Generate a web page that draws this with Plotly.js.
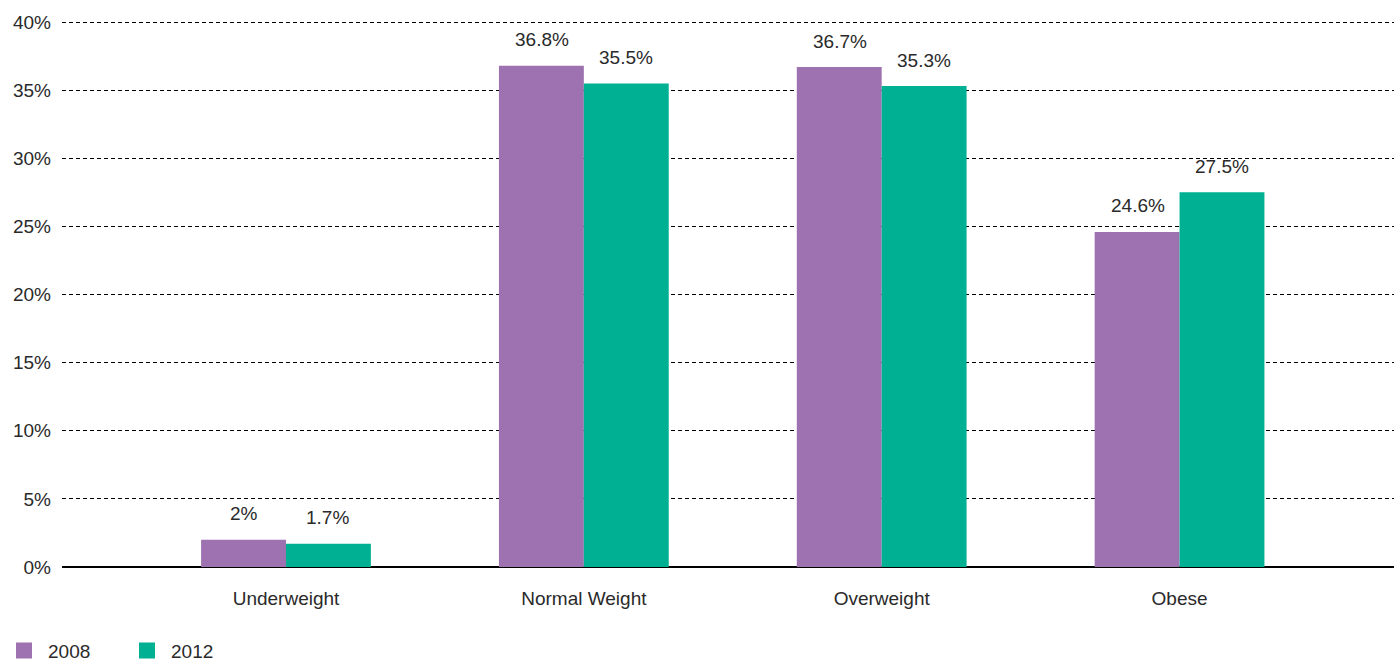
<!DOCTYPE html>
<html>
<head>
<meta charset="utf-8">
<script src="https://cdn.plot.ly/plotly-3.0.1.min.js"></script>
<style>html,body{margin:0;padding:0;background:#fff}#chart{width:1394px;height:662px}</style>
</head>
<body>
<div id="chart"></div>
<script>
const categories = ["Underweight", "Normal Weight", "Overweight", "Obese"];
const values2008 = [2, 36.8, 36.7, 24.6];
const values2012 = [1.7, 35.5, 35.3, 27.5];
const labels2008 = ["2%", "36.8%", "36.7%", "24.6%"];
const labels2012 = ["1.7%", "35.5%", "35.3%", "27.5%"];
const seriesNames = ["2008", "2012"];
const tickVals = [0, 5, 10, 15, 20, 25, 30, 35, 40];
const tickText = ["0%", "5%", "10%", "15%", "20%", "25%", "30%", "35%", "40%"];

const purple = "#9e72b0";
const green = "#00b093";
const font = {family: "Liberation Sans, Arial, sans-serif", size: 19, color: "#2a2a2a"};

const traces = [
  {type: "bar", name: seriesNames[0], x: categories, y: values2008, marker: {color: purple}, hoverinfo: "none", showlegend: false},
  {type: "bar", name: seriesNames[1], x: categories, y: values2012, marker: {color: green}, hoverinfo: "none", showlegend: false},
  {type: "scatter", mode: "markers", name: seriesNames[0], x: [null], y: [null], marker: {color: purple, symbol: "square", size: 16, line: {width: 0}}, hoverinfo: "none"},
  {type: "scatter", mode: "markers", name: seriesNames[1], x: [null], y: [null], marker: {color: green, symbol: "square", size: 16, line: {width: 0}}, hoverinfo: "none"}
];

const annotations = [];
categories.forEach((c, i) => {
  annotations.push({x: c, y: values2008[i], text: labels2008[i], showarrow: false, xshift: -42, yshift: 26, font: font});
  annotations.push({x: c, y: values2012[i], text: labels2012[i], showarrow: false, xshift: 42, yshift: 26, font: font});
});

const layout = {
  width: 1394, height: 662,
  margin: {l: 62, r: 0, t: 18, b: 95},
  paper_bgcolor: "#fff", plot_bgcolor: "#fff",
  font: font,
  barmode: "group", bargap: 0.43, bargroupgap: 0,
  xaxis: {type: "category", range: [-0.752, 3.72], showgrid: false, zeroline: false, showline: false, ticks: "", ticklabelstandoff: 18, tickfont: font, fixedrange: true, automargin: false},
  yaxis: {range: [0, 40.3], tickvals: tickVals, ticktext: tickText, showgrid: true, gridcolor: "#000", griddash: "4px,3px", gridwidth: 1, zeroline: true, zerolinecolor: "#000", zerolinewidth: 2, showline: false, ticks: "", ticklabelstandoff: 10, tickfont: font, fixedrange: true, automargin: false},
  showlegend: true,
  legend: {orientation: "h", xref: "container", x: 0, xanchor: "left", yref: "container", y: 0.017, yanchor: "middle", font: font, itemwidth: 38, entrywidth: 70, entrywidthmode: "pixels", tracegroupgap: 0},
  annotations: annotations
};

Plotly.newPlot("chart", traces, layout, {displayModeBar: false, staticPlot: true});
</script>
</body>
</html>
